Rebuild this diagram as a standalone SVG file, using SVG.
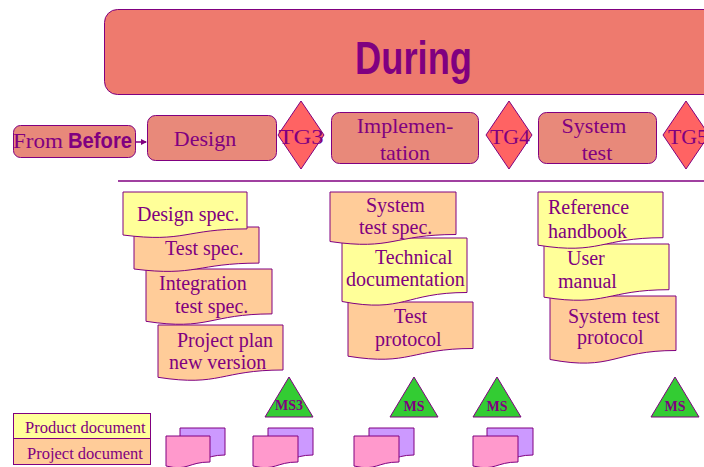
<svg xmlns="http://www.w3.org/2000/svg" width="704" height="467" viewBox="0 0 704 467">
<defs>
<style>
.box{fill:#E8897A;stroke:#800080;stroke-width:1}
.dia{fill:#FF6363;stroke:#800080;stroke-width:1}
.ylw{fill:#FFFF99;stroke:#800080;stroke-width:1}
.org{fill:#FFCC99;stroke:#800080;stroke-width:1}
.pur{fill:#CC99FF;stroke:#800080;stroke-width:1}
.pnk{fill:#FF99CC;stroke:#800080;stroke-width:1}
.ms{fill:#33CC33;stroke:#800080;stroke-width:1}
.t{font-family:"Liberation Serif",serif;fill:#800080;font-size:20px}
.tb{font-family:"Liberation Serif",serif;fill:#800080;font-size:22px;text-anchor:middle}
.tg{font-family:"Liberation Serif",serif;fill:#800080;font-size:20px;text-anchor:middle}
.mst{font-family:"Liberation Serif",serif;fill:#800080;font-size:14px;font-weight:bold;text-anchor:middle}
.lg{font-family:"Liberation Serif",serif;fill:#800080;font-size:16.5px}
.sb{font-family:"Liberation Sans",sans-serif;fill:#800080;font-weight:bold}
</style>
<marker id="arr" markerWidth="6" markerHeight="6" refX="5" refY="3" orient="auto" markerUnits="userSpaceOnUse">
<path d="M0,0 L6,3 L0,6 Z" fill="#800080"/>
</marker>
</defs>
<rect width="704" height="467" fill="#FFFFFF"/>

<g id="during">
<rect x="104.5" y="9.5" width="620" height="85" rx="13" fill="#EE7A6E" stroke="#800080" stroke-width="1"/>
<text class="sb" x="355" y="74" font-size="46" textLength="117" lengthAdjust="spacingAndGlyphs">During</text>
</g>

<g id="from-before">
<rect x="13.5" y="125.5" width="122" height="32" rx="7" class="box"/>
<text x="13" y="148" class="t" font-size="22" textLength="50" lengthAdjust="spacingAndGlyphs">From</text>
<text x="68" y="148" class="sb" font-size="22" textLength="64" lengthAdjust="spacingAndGlyphs">Before</text>
</g>

<g id="connectors">
<line x1="136" y1="142" x2="146" y2="142" stroke="#800080" stroke-width="1.5" marker-end="url(#arr)"/>
<line x1="118" y1="181" x2="704" y2="181" stroke="#800080" stroke-width="1.5"/>
</g>

<g id="design">
<rect x="147.5" y="115.5" width="129" height="45" rx="8" class="box"/>
<text class="tb" x="205" y="146">Design</text>
</g>
<g id="tg3">
<polygon points="301,101 324,135 301,169 278,135" class="dia"/>
<text class="tg" x="301" y="144" textLength="45" lengthAdjust="spacingAndGlyphs">TG3</text>
</g>
<g id="implementation">
<rect x="331.5" y="112.5" width="147" height="51" rx="8" class="box"/>
<text class="tb" x="405" y="133">Implemen-</text>
<text class="tb" x="405" y="160">tation</text>
</g>
<g id="tg4">
<polygon points="509,101 532,135 509,169 486,135" class="dia"/>
<text class="tg" x="510" y="144" textLength="40" lengthAdjust="spacingAndGlyphs">TG4</text>
</g>
<g id="system-test">
<rect x="538.5" y="112.5" width="118" height="51" rx="8" class="box"/>
<text class="tb" x="594" y="133">System</text>
<text class="tb" x="597" y="160">test</text>
</g>
<g id="tg5">
<polygon points="686,101 709,135 686,169 663,135" class="dia"/>
<text class="tg" x="688" y="144" textLength="40" lengthAdjust="spacingAndGlyphs">TG5</text>
</g>

<g id="project-plan">
<path class="org" d="M158,325 H283 V370 C220.5,370 220.5,387 158,377.3 Z"/>
<text class="t" x="177" y="347">Project plan</text>
<text class="t" x="169" y="369">new version</text>
</g>
<g id="integration-test-spec">
<path class="org" d="M146,269 H272 V313.9 C209,313.9 209,331 146,321.3 Z"/>
<text class="t" x="159" y="290">Integration</text>
<text class="t" x="175" y="313">test spec.</text>
</g>
<g id="test-spec">
<path class="org" d="M134,227 H259 V263.1 C196.5,263.1 196.5,276.8 134,269 Z"/>
<text class="t" x="165" y="255">Test spec.</text>
</g>
<g id="design-spec">
<path class="ylw" d="M123,192 H247 V228.9 C185,228.9 185,242.9 123,235 Z"/>
<text class="t" x="137" y="221">Design spec.</text>
</g>

<g id="test-protocol">
<path class="org" d="M348,302 H473 V348.5 C410.5,348.5 410.5,366.2 348,356.2 Z"/>
<text class="t" x="394" y="323">Test</text>
<text class="t" x="375" y="346">protocol</text>
</g>
<g id="technical-documentation">
<path class="ylw" d="M342,238 H467 V292.5 C404.5,292.5 404.5,313.3 342,301.5 Z"/>
<text class="t" x="375" y="264">Technical</text>
<text class="t" x="346" y="286">documentation</text>
</g>
<g id="system-test-spec">
<path class="org" d="M330,192 H456 V234.5 C393,234.5 393,250.7 330,241.5 Z"/>
<text class="t" x="366" y="212">System</text>
<text class="t" x="359" y="234">test spec.</text>
</g>

<g id="system-test-protocol">
<path class="org" d="M550,296 H676 V350.5 C613,350.5 613,371.3 550,359.5 Z"/>
<text class="t" x="568" y="323">System test</text>
<text class="t" x="577" y="344">protocol</text>
</g>
<g id="user-manual">
<path class="ylw" d="M544,244 H669 V289.7 C606.5,289.7 606.5,307.1 544,297.2 Z"/>
<text class="t" x="567" y="265">User</text>
<text class="t" x="558" y="288">manual</text>
</g>
<g id="reference-handbook">
<path class="ylw" d="M538,192 H663 V237.7 C600.5,237.7 600.5,255.1 538,245.2 Z"/>
<text class="t" x="548" y="214">Reference</text>
<text class="t" x="548" y="238">handbook</text>
</g>

<g id="ms3">
<polygon points="289,377 313,417 265,417" class="ms"/>
<text class="mst" x="289" y="410">MS3</text>
</g>
<g id="ms-a">
<polygon points="414,377 438,417 390,417" class="ms"/>
<text class="mst" x="414" y="411">MS</text>
</g>
<g id="ms-b">
<polygon points="497,377 521,417 473,417" class="ms"/>
<text class="mst" x="497" y="411">MS</text>
</g>
<g id="ms-c">
<polygon points="675,377 699,417 651,417" class="ms"/>
<text class="mst" x="675" y="411">MS</text>
</g>

<g id="doc-pair-1">
<path class="pur" d="M180,428 H225 V455 C202.5,455 202.5,465.6 180,459.8 Z"/>
<path class="pnk" d="M166,436 H210 V462 C188,462 188,471.4 166,466 Z"/>
</g>
<g id="doc-pair-2">
<path class="pur" d="M268,428 H313 V455 C290.5,455 290.5,465.6 268,459.8 Z"/>
<path class="pnk" d="M253,436 H298 V462 C275.5,462 275.5,471.4 253,466 Z"/>
</g>
<g id="doc-pair-3">
<path class="pur" d="M369,428 H414 V455 C391.5,455 391.5,465.6 369,459.8 Z"/>
<path class="pnk" d="M354,436 H399 V462 C376.5,462 376.5,471.4 354,466 Z"/>
</g>
<g id="doc-pair-4">
<path class="pur" d="M487,428 H533 V455 C510,455 510,465.6 487,459.8 Z"/>
<path class="pnk" d="M473,436 H518 V462 C495.5,462 495.5,471.4 473,466 Z"/>
</g>

<g id="legend">
<rect x="13.5" y="413.5" width="137" height="25" class="ylw"/>
<rect x="13.5" y="438.5" width="137" height="26" class="org"/>
<text class="lg" x="25" y="433">Product document</text>
<text class="lg" x="27" y="459">Project document</text>
</g>
</svg>
